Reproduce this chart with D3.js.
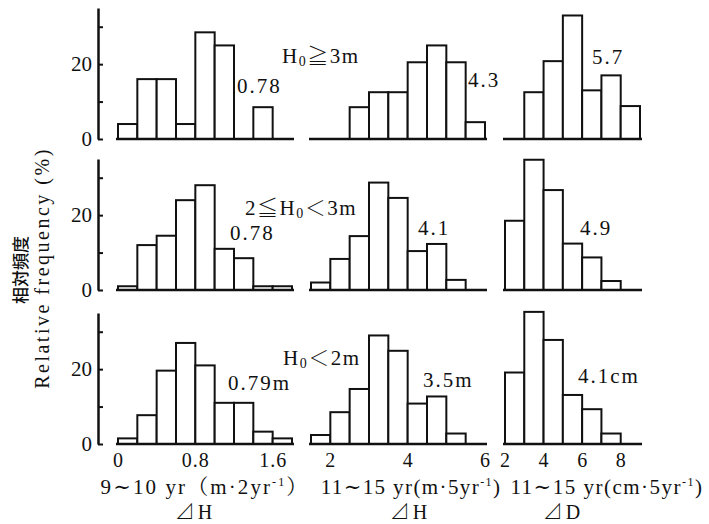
<!DOCTYPE html>
<html lang="ja">
<head>
<meta charset="UTF-8">
<title>Relative frequency of height and diameter growth</title>
<script src="https://d3js.org/d3.v7.min.js"></script>
<style>
  body { margin: 0; background: #fff; }
  svg { display: block; background: #fff; }
  .bar { fill: #fff; stroke: #111; stroke-width: 2; }
  .base { stroke: #111; stroke-width: 2.5; }
  .yaxis path { stroke: #111; stroke-width: 2.5; }
  .yaxis line { stroke: #111; stroke-width: 2; }
</style>
</head>
<body>
<svg id="chart" width="709" height="524"></svg>
<script>
// lower edge of each bin, one list per column
const binsH2 = [0, 0.2, 0.4, 0.6, 0.8, 1.0, 1.2, 1.4, 1.6];
const binsH5 = [1.5, 2, 2.5, 3, 3.5, 4, 4.5, 5, 5.5];
const binsD5 = [2, 3, 4, 5, 6, 7, 8];
const binWidth = [0.2, 0.5, 1];

// relative frequency (%) -- rows: H0>=3m, 2<=H0<3m, H0<2m
const dH2_top = [4, 16, 16, 4, 28.5, 25, 0, 8.5, 0];
const dH2_mid = [1, 12, 14.5, 24, 28, 11, 8.5, 1, 1];
const dH2_bot = [1.5, 7.7, 19.6, 27, 21, 11, 11, 3.3, 1.5];

const dH5_top = [0, 0, 8.5, 12.5, 12.5, 20.5, 25, 20.5, 4.5];
const dH5_mid = [2, 8.3, 14.4, 28.7, 24.6, 10.4, 12.3, 2.7, 0];
const dH5_bot = [2.4, 8.5, 14.7, 29, 24.9, 10.8, 12.7, 2.8, 0];

const dD5_top = [0, 12.5, 20.8, 33, 13, 17, 8.8];
const dD5_mid = [18.5, 34.8, 26.7, 12.4, 8.7, 2.4, 0];
const dD5_bot = [19.1, 35.3, 27.8, 13.1, 9.3, 2.8, 0];

// mean values written beside each histogram
const means = [
    ["0.78", "4.3", "5.7"],
    ["0.78", "4.1", "4.9"],
    ["0.79m", "3.5m", "4.1cm"]
];
// class labels (s = subscript)
const classLabels = [
    [["H"], ["0", "s"], ["≧3m"]],
    [["2≦H"], ["0", "s"], ["＜3m"]],
    [["H"], ["0", "s"], ["＜2m"]]
];

const xTicks = [[0, 0.8, 1.6], [2, 4, 6], [2, 4, 6, 8]];
const yTicks = [0, 10, 20, 30];
const xTitles = [
    ["9∼10 yr（m·2yr", "-1", "）"],
    ["11∼15 yr(m·5yr", "-1", ")"],
    ["11∼15 yr(cm·5yr", "-1", ")"]
];
const xVars = ["⊿H", "⊿H", "⊿D"];

const bins = [binsH2, binsH5, binsD5];
const rows = [
    [dH2_top, dH5_top, dD5_top],
    [dH2_mid, dH5_mid, dD5_mid],
    [dH2_bot, dH5_bot, dD5_bot]
];

const SERIF = "'Liberation Serif', 'Noto Serif CJK JP', 'DejaVu Serif', serif";

// layout
const svg = d3.select("#chart");
const baselines = [139, 290, 444];
const rowH = 131;
const axisX = 98;
const colRange = [[118, 292], [311, 485], [505, 640]];
const colDomain = [[0, 1.8], [1.5, 6], [2, 9]];

const xs = colDomain.map((d, i) => d3.scaleLinear().domain(d).range(colRange[i]));

// text placement [x, baseline y]
const classPos = [[282, 63], [245, 215], [283, 365]];
const meanPos = [
    [[237, 93], [468, 87], [592, 64]],
    [[230, 240], [418, 235], [580, 235]],
    [[228, 390], [423, 387], [578, 383]]
];

rows.forEach((row, r) => {
    const base = baselines[r];
    const y = d3.scaleLinear().domain([0, 35]).range([base, base - rowH]);

    // left axis
    const ya = svg.append("g")
        .attr("class", "yaxis")
        .attr("transform", `translate(${axisX},0)`)
        .call(d3.axisLeft(y)
            .tickValues(yTicks)
            .tickSizeInner(-5)
            .tickSizeOuter(0)
            .tickPadding(6)
            .tickFormat(d => d % 20 === 0 ? d : ""));
    ya.selectAll("text").style("font-family", SERIF).style("font-size", "21px").attr("fill", "#111");

    row.forEach((vals, c) => {
        const x = xs[c];
        const w = binWidth[c];
        const data = bins[c].map((b, i) => ({ b: b, v: vals[i] })).filter(d => d.v > 0);

        svg.append("g").selectAll("rect")
            .data(data)
            .join("rect")
            .attr("class", "bar")
            .attr("x", d => x(d.b))
            .attr("width", d => x(d.b + w) - x(d.b))
            .attr("y", d => y(d.v))
            .attr("height", d => y(0) - y(d.v));

        svg.append("line")
            .attr("class", "base")
            .attr("x1", x.range()[0] - 2)
            .attr("x2", x.range()[1] + 2)
            .attr("y1", y(0))
            .attr("y2", y(0));

        svg.append("text")
            .attr("x", meanPos[r][c][0])
            .attr("y", meanPos[r][c][1])
            .attr("fill", "#111")
            .style("font-family", SERIF)
            .style("font-size", "21px")
            .attr("letter-spacing", 2)
            .text(means[r][c]);
    });

    const lab = svg.append("text")
        .attr("x", classPos[r][0])
        .attr("y", classPos[r][1])
        .attr("fill", "#111")
        .attr("letter-spacing", 1.5)
        .style("font-family", SERIF)
        .style("font-size", "21px");
    classLabels[r].forEach((p, i) => {
        const t = lab.append("tspan").text(p[0]);
        if (p[1] === "s") t.style("font-size", "14px").attr("dy", 3);
        else if (i > 0) t.attr("dy", -3);
    });
});

// x axes under bottom row
xs.forEach((x, c) => {
    const g = svg.append("g")
        .attr("class", "xaxis")
        .attr("transform", `translate(0,${baselines[2]})`)
        .call(d3.axisBottom(x)
            .tickValues(xTicks[c])
            .tickSize(0)
            .tickPadding(9)
            .tickFormat(d3.format("")));
    g.select(".domain").remove();
    g.selectAll("text").style("font-family", SERIF).style("font-size", "20px")
        .attr("fill", "#111").attr("letter-spacing", 1);
});

const titleX = [205, 411, 607];
const titleSpacing = [2.1, 1.4, 1.5];
xTitles.forEach((t, c) => {
    const tx = svg.append("text")
        .attr("x", titleX[c])
        .attr("y", 494)
        .attr("text-anchor", "middle")
        .attr("fill", "#111")
        .attr("letter-spacing", titleSpacing[c])
        .style("font-family", SERIF)
        .style("font-size", "21px");
    tx.append("tspan").text(t[0]);
    tx.append("tspan").style("font-size", "12px").attr("dy", -8).text(t[1]);
    tx.append("tspan").attr("dy", 8).text(t[2]);
});

const varX = [195, 410, 563];
xVars.forEach((v, c) => {
    svg.append("text")
        .attr("x", varX[c])
        .attr("y", 519)
        .attr("text-anchor", "middle")
        .attr("fill", "#111")
        .attr("letter-spacing", 3)
        .style("font-family", SERIF)
        .style("font-size", "20px")
        .text(v);
});

// y titles
svg.append("text")
    .attr("transform", "translate(27,270) rotate(-90)")
    .attr("text-anchor", "middle")
    .attr("fill", "#111")
    .style("font-family", "'Noto Sans CJK JP', sans-serif")
    .style("font-size", "17px")
    .style("font-weight", "500")
    .text("相対頻度");

svg.append("text")
    .attr("transform", "translate(49,268) rotate(-90)")
    .attr("text-anchor", "middle")
    .attr("fill", "#111")
    .style("font-family", SERIF)
    .style("font-size", "20px")
    .attr("letter-spacing", 2.5)
    .text("Relative frequency (%)");
</script>
</body>
</html>
